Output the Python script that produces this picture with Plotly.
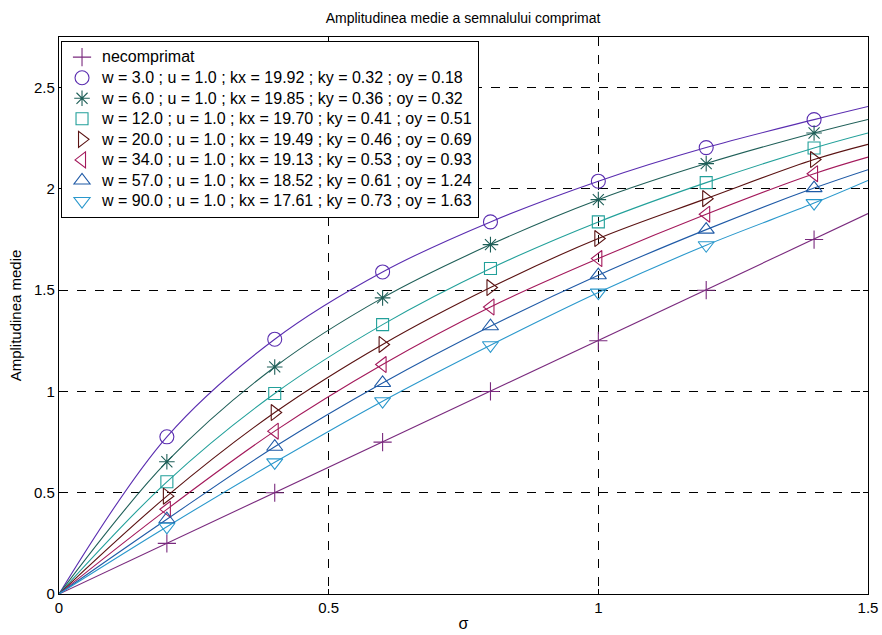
import plotly.graph_objects as go

# ---- data ----
sigma_marks = [0.2, 0.4, 0.6, 0.8, 1.0, 1.2, 1.4]
sigma_end = 1.5

names = [
    "necomprimat",
    "w = 3.0 ; u = 1.0 ; kx = 19.92 ; ky = 0.32 ; oy = 0.18",
    "w = 6.0 ; u = 1.0 ; kx = 19.85 ; ky = 0.36 ; oy = 0.32",
    "w = 12.0 ; u = 1.0 ; kx = 19.70 ; ky = 0.41 ; oy = 0.51",
    "w = 20.0 ; u = 1.0 ; kx = 19.49 ; ky = 0.46 ; oy = 0.69",
    "w = 34.0 ; u = 1.0 ; kx = 19.13 ; ky = 0.53 ; oy = 0.93",
    "w = 57.0 ; u = 1.0 ; kx = 18.52 ; ky = 0.61 ; oy = 1.24",
    "w = 90.0 ; u = 1.0 ; kx = 17.61 ; ky = 0.73 ; oy = 1.63",
]

y_necomprimat = [0.25, 0.50, 0.75, 1.00, 1.25, 1.50, 1.75]
y_w3 = [0.776, 1.258, 1.590, 1.837, 2.038, 2.204, 2.342]
y_w6 = [0.653, 1.121, 1.462, 1.725, 1.947, 2.125, 2.276]
y_w12 = [0.554, 0.990, 1.330, 1.607, 1.837, 2.031, 2.202]
y_w20 = [0.483, 0.896, 1.232, 1.513, 1.755, 1.952, 2.145]
y_w34 = [0.418, 0.804, 1.133, 1.417, 1.656, 1.875, 2.075]
y_w57 = [0.369, 0.727, 1.042, 1.322, 1.574, 1.799, 2.004]
y_w90 = [0.332, 0.650, 0.952, 1.228, 1.488, 1.722, 1.930]

y_end = [1.878, 2.407, 2.343, 2.276, 2.220, 2.157, 2.095, 2.042]

series = [y_necomprimat, y_w3, y_w6, y_w12, y_w20, y_w34, y_w57, y_w90]

colors = ["#7a2a7e", "#5a2db0", "#1f5f58", "#22a09a", "#5a1212",
          "#a3195b", "#1f5aa6", "#2a98cc"]
symbols = ["cross-thin-open", "circle-open", "asterisk-open", "square-open",
           "triangle-right-open", "triangle-left-open", "triangle-up-open",
           "triangle-down-open"]
sizes = [13, 14, 13, 12, 14, 14, 14, 14]

x_ticks = [0, 0.5, 1, 1.5]
x_ticklabels = ["0", "0.5", "1", "1.5"]
y_ticks = [0, 0.5, 1, 1.5, 2, 2.5]
y_ticklabels = ["0", "0.5", "1", "1.5", "2", "2.5"]

FONT = "Liberation Sans, Arial, sans-serif"

fig = go.Figure()

for i, (nm, ys) in enumerate(zip(names, series)):
    line_x = [0.0] + sigma_marks + [sigma_end]
    line_y = [0.0] + ys + [y_end[i]]
    fig.add_trace(go.Scatter(
        x=line_x, y=line_y, mode="lines",
        line=dict(color=colors[i], width=1.1,
                  shape="linear" if i == 0 else "spline"),
        showlegend=False, hoverinfo="skip"))

for i, (nm, ys) in enumerate(zip(names, series)):
    fig.add_trace(go.Scatter(
        x=sigma_marks, y=ys, mode="markers",
        name=f'<span style="font-size:16px">{nm}</span>',
        marker=dict(symbol=symbols[i], size=sizes[i], color=colors[i],
                    line=dict(color=colors[i], width=1.1))))

axis_common = dict(
    showline=True, linecolor="black", linewidth=1.2, mirror="ticks",
    ticks="inside", ticklen=5, tickcolor="black",
    showgrid=True, gridcolor="#000000", griddash="dash", gridwidth=0.8,
    zeroline=False, automargin=False,
    tickfont=dict(family=FONT, size=15, color="black"),
)

fig.update_xaxes(range=[0, 1.5], tickvals=x_ticks, ticktext=x_ticklabels,
                 title=dict(text="σ", font=dict(family=FONT, size=16, color="black"),
                            standoff=2),
                 **axis_common)
fig.update_yaxes(range=[0, 2.75], tickvals=y_ticks, ticktext=y_ticklabels,
                 title=dict(text="Amplitudinea medie", font=dict(family=FONT, size=15, color="black"),
                            standoff=8),
                 **axis_common)

fig.update_layout(
    width=882, height=635,
    margin=dict(l=59, r=14, t=37, b=41),
    paper_bgcolor="white", plot_bgcolor="white",
    title=dict(text="Amplitudinea medie a semnalului comprimat",
               x=0.525, xanchor="center", y=0.972, yanchor="middle",
               font=dict(family=FONT, size=14, color="black")),
    legend=dict(x=0.0025, y=0.993, xanchor="left", yanchor="top",
                bgcolor="white", bordercolor="black", borderwidth=1,
                font=dict(family=FONT, size=13.5, color="black"),
                traceorder="normal"),
    showlegend=True,
)

fig.write_html("out.html", config={"displayModeBar": False},
               post_script="document.body.style.margin='0';document.body.style.overflow='hidden';")
